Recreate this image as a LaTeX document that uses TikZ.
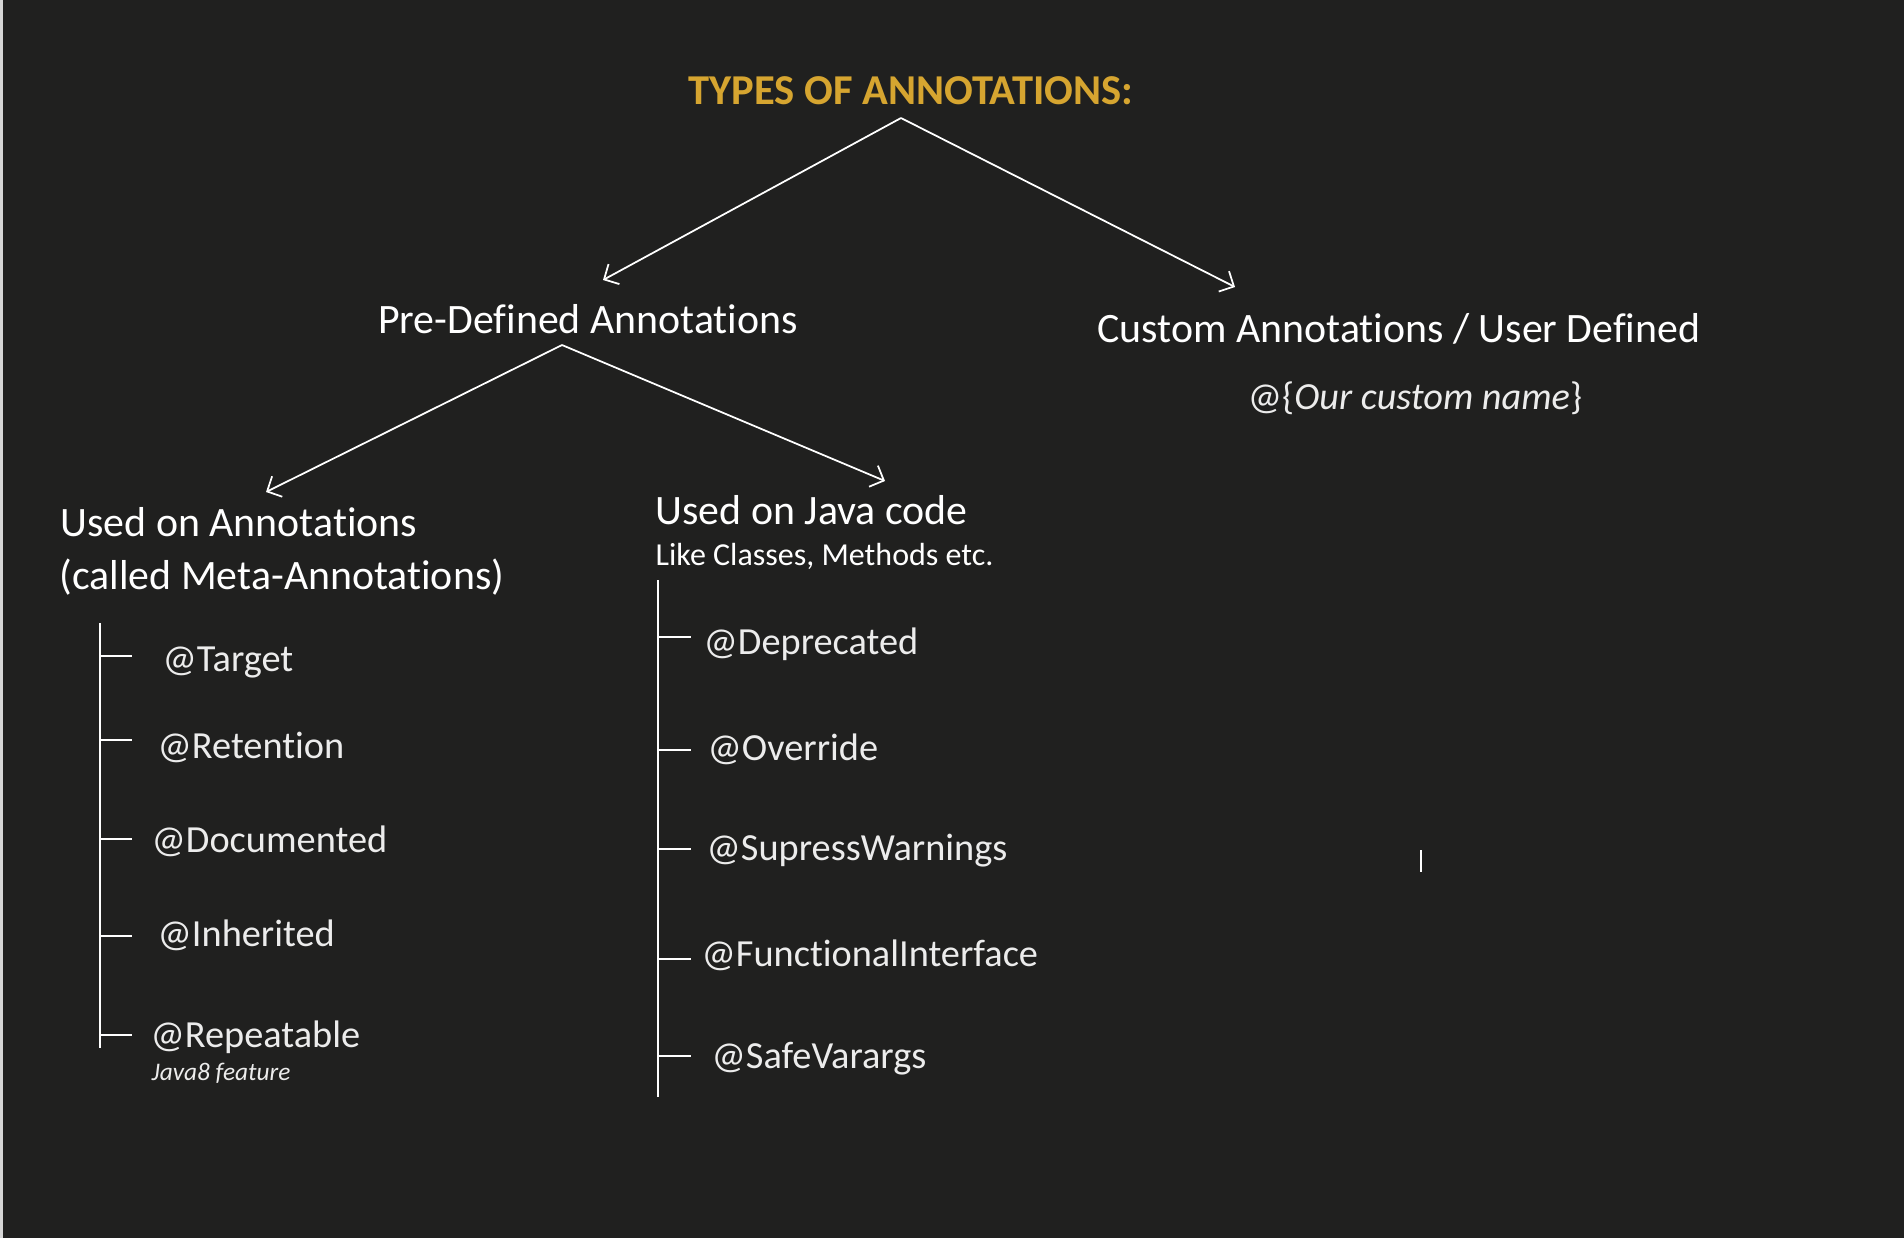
\documentclass[tikz,border=0pt]{standalone}
\usepackage{fontspec}
\setmainfont{Carlito}[Ligatures={NoCommon}]
\usetikzlibrary{arrows.meta,positioning}
\definecolor{bgdark}{RGB}{32,32,31}
\definecolor{titlegold}{RGB}{214,165,48}
\definecolor{itemgrey}{RGB}{236,236,236}
\definecolor{edgegrey}{RGB}{214,214,214}

\tikzset{
    kind/.style={text=white, inner sep=0pt, font=\fontsize{11.9}{14}\selectfont},
    annot/.style={text=itemgrey, inner sep=0pt, font=\fontsize{10.9}{13}\selectfont},
    smallnote/.style={text=white, inner sep=0pt, font=\fontsize{9.1}{11}\selectfont},
    flow/.style={draw=white, line width=0.5pt, -{Straight Barb[length=3.2pt,width=6.5pt]}},
    trunk/.style={draw=white, line width=0.8pt},
    twig/.style={draw=white, line width=0.55pt}
}

\begin{document}
\begin{tikzpicture}[x=0.01cm, y=-0.01cm]
    \fill[bgdark] (0, 0) rectangle (1904, 1238);
    \fill[edgegrey] (0, 0) rectangle (3, 1238);

    % heading and the two kinds
    \node[inner sep=0pt, text=titlegold, font=\fontsize{12.1}{14}\bfseries, anchor=base] (title) at (911, 104) {TYPES OF ANNOTATIONS:};
    \node[kind, anchor=base] (predef) at (588, 333) {Pre-Defined Annotations};
    \node[kind, anchor=base] (custom) at (1399, 342) {Custom Annotations / User Defined};
    \node[annot, anchor=base] (customname) at (1415, 409) {@\{\textit{Our custom name}\}};

    \coordinate (topfork) at (901, 118);
    \coordinate (predeftip) at (603, 280);
    \coordinate (customtip) at (1235, 287);
    \draw[flow] (topfork) -- (predeftip);
    \draw[flow] (topfork) -- (customtip);

    % pre-defined split
    \node[kind, anchor=base west] (metaann) at (60, 536) {Used on Annotations};
    \node[kind, anchor=base west] (metacalled) at (59, 589) {(called Meta-Annotations)};
    \node[kind, anchor=base west] (javacode) at (655, 524) {Used on Java code};
    \node[smallnote, anchor=base west] (javalike) at (655, 565) {Like Classes, Methods etc.};

    \coordinate (predeffork) at (562, 345);
    \coordinate (metatip) at (266, 492);
    \coordinate (javatip) at (885, 481);
    \draw[flow] (predeffork) -- (metatip);
    \draw[flow] (predeffork) -- (javatip);

    % meta-annotations list
    \coordinate (metatop) at (100, 623);
    \coordinate (metabot) at (100, 1048);
    \draw[trunk] (metatop) -- (metabot);
    \draw[twig] (101, 656) -- (132, 656);
    \draw[twig] (101, 740) -- (132, 740);
    \draw[twig] (101, 839) -- (132, 839);
    \draw[twig] (101, 936) -- (132, 936);
    \draw[twig] (101, 1035) -- (132, 1035);
    \node[annot, anchor=base west] (target) at (162, 671) {@Target};
    \node[annot, anchor=base west] (retention) at (157, 758) {@Retention};
    \node[annot, anchor=base west] (documented) at (151, 852) {@Documented};
    \node[annot, anchor=base west] (inherited) at (157, 946) {@Inherited};
    \node[annot, anchor=base west] (repeatable) at (150, 1047) {@Repeatable};
    \node[inner sep=0pt, text=itemgrey, font=\fontsize{7.2}{9}\itshape, anchor=base west] (javaeight) at (151, 1080) {Java8 feature};

    % java code list
    \coordinate (javatop) at (658, 580);
    \coordinate (javabot) at (658, 1097);
    \draw[trunk] (javatop) -- (javabot);
    \draw[twig] (659, 637) -- (691, 637);
    \draw[twig] (659, 750) -- (691, 750);
    \draw[twig] (659, 849) -- (691, 849);
    \draw[twig] (659, 959) -- (691, 959);
    \draw[twig] (659, 1056) -- (691, 1056);
    \node[annot, anchor=base west] (deprecated) at (703, 654) {@Deprecated};
    \node[annot, anchor=base west] (override) at (707, 760) {@Override};
    \node[annot, anchor=base west] (supress) at (706, 860) {@SupressWarnings};
    \node[annot, anchor=base west] (functional) at (701, 966) {@FunctionalInterface};
    \node[annot, anchor=base west] (safevarargs) at (711, 1068) {@SafeVarargs};

    % stray cursor mark
    \coordinate (marktop) at (1421, 850);
    \coordinate (markbot) at (1421, 872);
    \draw[twig] (marktop) -- (markbot);
\end{tikzpicture}
\end{document}
